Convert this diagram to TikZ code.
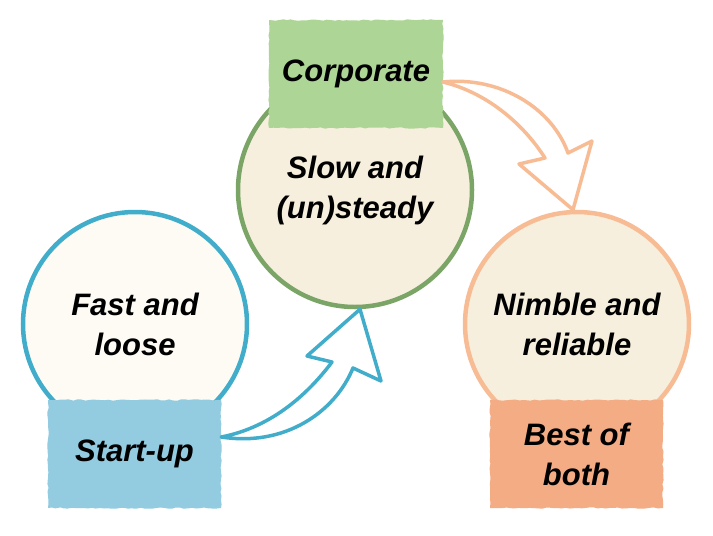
\documentclass[tikz,border=0pt]{standalone}
\usepackage{fontspec}
\setmainfont{Liberation Sans}
\usetikzlibrary{decorations.pathmorphing}
\definecolor{bluestroke}{HTML}{42ADCA}
\definecolor{bluebox}{HTML}{93CCE0}
\definecolor{paleFill}{HTML}{FDFBF4}
\definecolor{greenstroke}{HTML}{7AA566}
\definecolor{greenbox}{HTML}{ADD595}
\definecolor{creamFill}{HTML}{F6EFDD}
\definecolor{orangestroke}{HTML}{F8BC94}
\definecolor{orangebox}{HTML}{F4AC85}
\begin{document}
\begin{tikzpicture}[x=1pt,y=-1pt,
  lbl/.style={font=\fontsize{31}{40}\selectfont\bfseries\itshape, align=center, text=black},
  bubble/.style={circle, line width=4.5pt, inner sep=0pt, lbl},
  tagbox/.style={rectangle, inner sep=0pt, minimum width=173pt, minimum height=108pt, lbl},
  rough/.style={decorate, decoration={random steps, segment length=4pt, amplitude=0.7pt}},
  bendarrow/.style={line width=3.5pt, line join=round, fill=white}]
\useasboundingbox (0,0) rectangle (713,536);
\fill[white] (0,0) rectangle (713,536);

% circles
\node[bubble, draw=bluestroke, fill=paleFill, minimum size=224pt] (fast) at (135,324) {Fast and\\loose};
\node[bubble, draw=greenstroke, fill=creamFill, minimum size=234pt] (slow) at (355,190) {Slow and\\(un)steady};
\node[bubble, draw=orangestroke, fill=creamFill, minimum size=224pt] (nimble) at (577,324) {Nimble and\\reliable};

% boxes
\fill[bluebox, rough] (48,400) rectangle (221,508);
\node[tagbox] (startup) at (134.5,454) {Start-up};
\fill[greenbox, rough] (269,20) rectangle (443,128);
\node[tagbox] (corp) at (356,74) {Corporate};
\fill[orangebox, rough] (490,400) rectangle (663,508);
\node[tagbox] (best) at (576.5,454) {Best of\\both};

% blue arrow: start-up -> slow
\coordinate (bS) at (startup.east |- 0,437);
\coordinate (bA) at (353,368);
\coordinate (bR) at (381,381);
\coordinate (bT) at (slow.south -| 360,0);
\coordinate (bL) at (307,356);
\coordinate (bI) at (332,362);
\draw[bendarrow, draw=bluestroke] (bS) .. controls (285,447) and (335,412) .. (bA)
  -- (bR) -- (bT) -- (bL) -- (bI)
  .. controls (305,398) and (268,428) .. (bS) -- cycle;

% orange arrow: corporate -> nimble
\coordinate (oS) at (corp.east |- 0,82);
\coordinate (oA) at (568,153);
\coordinate (oR) at (592,141);
\coordinate (oT) at (nimble.north -| 573,0);
\coordinate (oL) at (519,164);
\coordinate (oI) at (545,158);
\draw[bendarrow, draw=orangestroke] (oS) .. controls (500,76) and (552,108) .. (oA)
  -- (oR) -- (oT) -- (oL) -- (oI)
  .. controls (522,122) and (485,92) .. (oS) -- cycle;
\end{tikzpicture}
\end{document}
